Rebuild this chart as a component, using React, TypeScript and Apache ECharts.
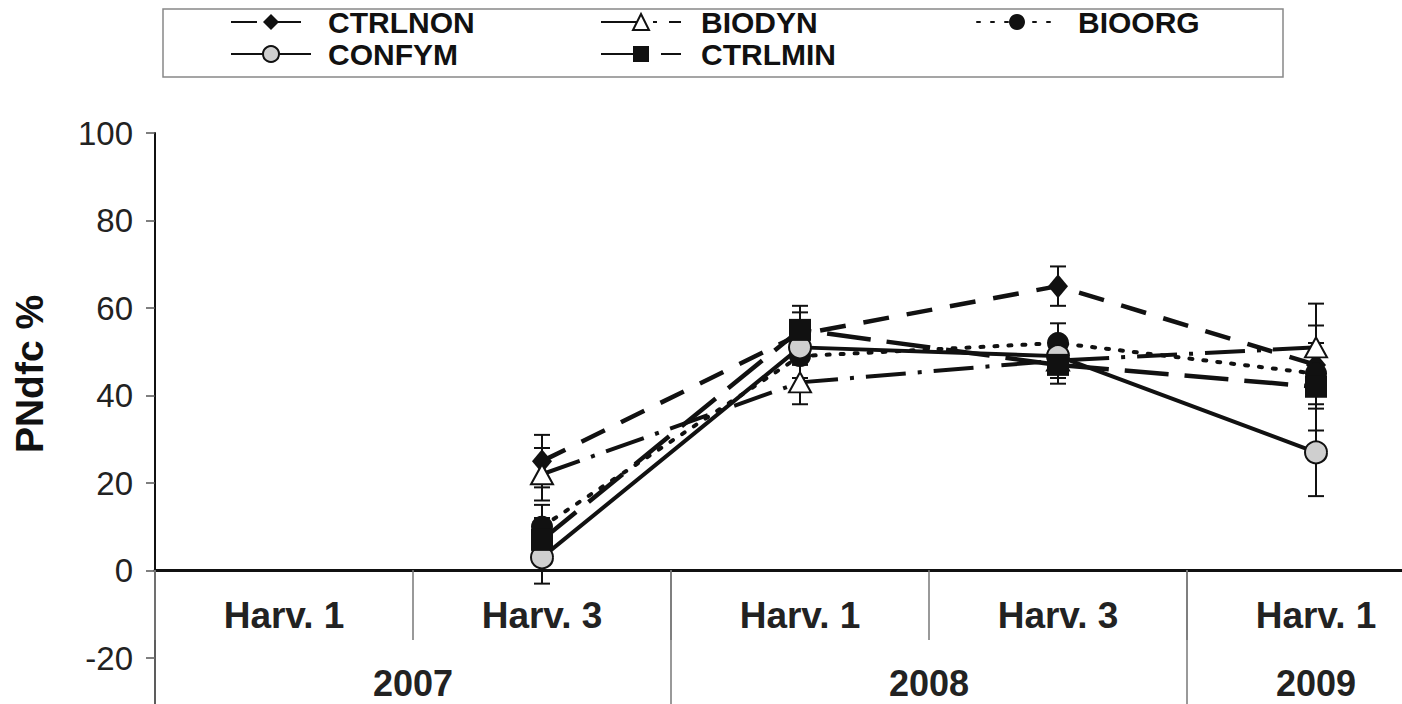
import React, { useEffect, useRef } from "react";
import * as echarts from "echarts";

const categories = ["Harv. 1", "Harv. 3", "Harv. 1", "Harv. 3", "Harv. 1"];
const yearSlots = ["", "", "2007", "", "", "", "2008", "", "", "2009", ""];
const yearLabelIdx = [2, 6, 9];
const yearSepIdx = [0, 4, 8, 10];

const ctrlnon = [null, 25, 54, 65, 47];
const biodyn = [null, 22, 43, 48, 51];
const bioorg = [null, 10, 49, 52, 45];
const confym = [null, 3, 51, 49, 27];
const ctrlmin = [null, 7, 55, 47, 42];

const ctrlnonErr = [null, 6, 5, 4.5, 9];
const biodynErr = [null, 6, 5, 4, 10];
const bioorgErr = [null, 5, 5, 4.5, 5];
const confymErr = [null, 6, 4, 4, 10];
const ctrlminErr = [null, 5, 5.5, 4.3, 10];

const FONT = "'Liberation Sans', Arial, sans-serif";
const INK = "#111";

function errData(vals: (number | null)[], errs: (number | null)[]) {
  const out: number[][] = [];
  vals.forEach((v, i) => {
    const e = errs[i];
    if (v != null && e != null) out.push([i, v, e]);
  });
  return out;
}

export default function App() {
  const ref = useRef<HTMLDivElement>(null);
  useEffect(() => {
    if (!ref.current) return;
    const chart = echarts.init(ref.current, null, { renderer: "svg" });

    const allErr = [
      ...errData(ctrlnon, ctrlnonErr),
      ...errData(biodyn, biodynErr),
      ...errData(bioorg, bioorgErr),
      ...errData(confym, confymErr),
      ...errData(ctrlmin, ctrlminErr),
    ];

    const legendBase = (name: string, left: number, top: number, pad: number) => ({
      data: [name],
      left,
      top,
      padding: 0,
      itemWidth: 80,
      itemHeight: 20,
      selectedMode: false,
      textStyle: {
        fontFamily: FONT,
        fontSize: 30,
        fontWeight: "bold",
        color: INK,
        padding: [0, 0, 0, pad],
      },
    });

    const option: any = {
      animation: false,
      backgroundColor: "#fff",
      grid: {
        left: 155,
        top: 133,
        right: -43,
        bottom: -41.5,
        containLabel: false,
        outerBoundsMode: "none",
      },
      legend: [
        legendBase("CTRLNON", 230, 7, 12),
        legendBase("BIODYN", 600, 7, 15),
        legendBase("BIOORG", 976, 7, 16),
        legendBase("CONFYM", 230, 39, 12),
        legendBase("CTRLMIN", 600, 39, 15),
      ],
      graphic: [
        {
          type: "rect",
          shape: { x: 163, y: 9, width: 1120, height: 68 },
          style: { fill: "none", stroke: "#888", lineWidth: 1.5 },
          z: -1,
        },
        {
          type: "text",
          x: 29,
          y: 374,
          rotation: Math.PI / 2,
          style: {
            text: "PNdfc %",
            fontFamily: FONT,
            fontSize: 39,
            fontWeight: "bold",
            fill: INK,
            align: "center",
            verticalAlign: "middle",
          },
        },
      ],
      xAxis: [
        {
          type: "category",
          data: categories,
          boundaryGap: true,
          position: "bottom",
          offset: -175.5,
          axisLine: { show: true, onZero: false, lineStyle: { color: INK, width: 3 } },
          axisTick: {
            show: true,
            interval: 0,
            length: 70,
            lineStyle: { color: "#777", width: 1.5 },
          },
          axisLabel: {
            interval: 0,
            margin: 27,
            fontFamily: FONT,
            fontSize: 37,
            fontWeight: "bold",
            color: "#222",
          },
          splitLine: { show: false },
        },
        {
          type: "category",
          data: yearSlots,
          boundaryGap: false,
          position: "bottom",
          offset: -175.5,
          axisLine: { show: false, onZero: false },
          axisTick: {
            show: true,
            length: 200,
            interval: (idx: number) => yearSepIdx.includes(idx),
            lineStyle: { color: "#777", width: 1.5 },
          },
          axisLabel: {
            interval: (idx: number) => yearLabelIdx.includes(idx),
            margin: 95,
            fontFamily: FONT,
            fontSize: 36,
            fontWeight: "bold",
            color: "#222",
          },
          splitLine: { show: false },
        },
      ],
      yAxis: {
        type: "value",
        min: -40,
        max: 100,
        interval: 20,
        axisLine: { show: true, onZero: false, lineStyle: { color: INK, width: 2 } },
        axisTick: { show: true, length: 9, lineStyle: { color: "#555", width: 1.5 } },
        axisLabel: {
          margin: 22,
          fontFamily: FONT,
          fontSize: 33,
          color: "#222",
          formatter: (v: number) => (v < -30 ? "" : String(v)),
        },
        splitLine: { show: false },
      },
      series: [
        {
          name: "err",
          type: "custom",
          z: 1,
          data: allErr,
          encode: { x: 0, y: 1 },
          renderItem: (params: any, api: any) => {
            const x = api.value(0);
            const v = api.value(1);
            const e = api.value(2);
            const top = api.coord([x, v + e]);
            const bot = api.coord([x, v - e]);
            const w = 8;
            const st = { stroke: INK, lineWidth: 2 };
            return {
              type: "group",
              children: [
                { type: "line", shape: { x1: top[0], y1: top[1], x2: bot[0], y2: bot[1] }, style: st },
                { type: "line", shape: { x1: top[0] - w, y1: top[1], x2: top[0] + w, y2: top[1] }, style: st },
                { type: "line", shape: { x1: bot[0] - w, y1: bot[1], x2: bot[0] + w, y2: bot[1] }, style: st },
              ],
            };
          },
        },
        {
          name: "CTRLNON",
          type: "line",
          data: ctrlnon,
          z: 3,
          symbol: "diamond",
          symbolSize: [20, 24],
          itemStyle: { color: INK },
          lineStyle: { color: INK, width: 4.5, type: [26, 18] },
        },
        {
          name: "BIODYN",
          type: "line",
          data: biodyn,
          z: 3,
          symbol: "triangle",
          symbolSize: [22, 20],
          itemStyle: { color: "#fff", borderColor: INK, borderWidth: 2 },
          lineStyle: { color: INK, width: 4, type: [40, 12, 4, 12] },
        },
        {
          name: "BIOORG",
          type: "line",
          data: bioorg,
          z: 3,
          symbol: "circle",
          symbolSize: 22,
          itemStyle: { color: INK },
          lineStyle: { color: INK, width: 4, type: [3, 11], cap: "round" },
        },
        {
          name: "CONFYM",
          type: "line",
          data: confym,
          z: 3,
          symbol: "circle",
          symbolSize: 22,
          itemStyle: { color: "#cfcfcf", borderColor: INK, borderWidth: 2 },
          lineStyle: { color: INK, width: 4, type: "solid" },
        },
        {
          name: "CTRLMIN",
          type: "line",
          data: ctrlmin,
          z: 3,
          symbol: "rect",
          symbolSize: 22,
          itemStyle: { color: INK },
          lineStyle: { color: INK, width: 4.5, type: [44, 16] },
        },
      ],
    };

    chart.setOption(option);
    return () => {
      chart.dispose();
    };
  }, []);

  return (
    <div
      ref={ref}
      style={{ position: "absolute", left: 0, top: 0, width: 1402, height: 704, background: "#fff" }}
    />
  );
}
